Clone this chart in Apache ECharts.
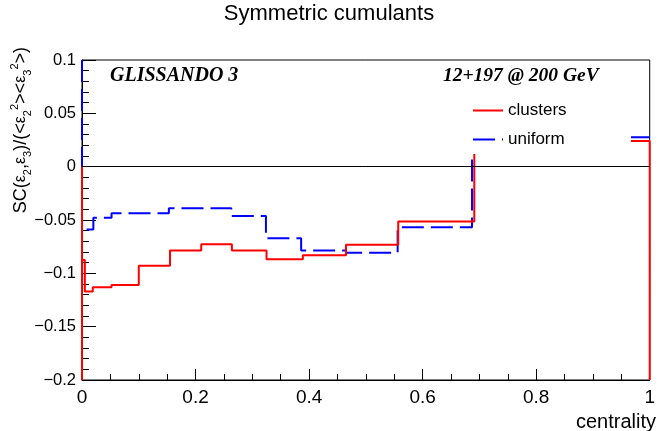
<!DOCTYPE html>
<html>
<head>
<meta charset="utf-8">
<script src="https://cdn.jsdelivr.net/npm/echarts@6/dist/echarts.min.js"></script>
<style>
  html, body { margin: 0; padding: 0; background: #fff; }
  #main { width: 658px; height: 431px; }
</style>
</head>
<body>
<div id="main"></div>
<script>
var sans = '"Liberation Sans", Arial, sans-serif';
var serif = '"Liberation Serif", "Times New Roman", serif';

// clusters (red): bin edges and bin values
var redEdges = [0, 0.005, 0.019, 0.052, 0.1, 0.155, 0.21, 0.264, 0.325, 0.389, 0.465, 0.557, 0.691];
var redValues = [-0.0875, -0.117, -0.113, -0.111, -0.093, -0.0787, -0.0728, -0.0787, -0.0869, -0.0831, -0.0731, -0.0515];
var redJump = 0.0119;
var redLastEdges = [0.967, 1];
var redLastValue = 0.024;

// uniform (blue)
var blueEdges = [0, 0.02, 0.052, 0.153, 0.263, 0.324, 0.386, 0.465, 0.556, 0.687];
var blueValues = [-0.0588, -0.0478, -0.0437, -0.039, -0.0462, -0.0672, -0.0787, -0.0806, -0.0569];
var blueJump = 0.0119;
var blueLastEdges = [0.967, 1];
var blueLastValue = 0.0275;

var yMin = -0.2, yMax = 0.1;

function steps(start, edges, values, jump, lastEdges, lastValue, end) {
  var pts = start.slice();
  for (var i = 0; i < values.length; i++) {
    pts.push([edges[i], values[i]]);
    pts.push([edges[i + 1], values[i]]);
  }
  pts.push([edges[edges.length - 1], jump]);
  pts.push([edges[edges.length - 1], '-']);
  pts.push([lastEdges[0], lastValue]);
  pts.push([lastEdges[1], lastValue]);
  return pts.concat(end);
}

var redData = steps([[0, yMin], [0, 0]], redEdges, redValues, redJump, redLastEdges, redLastValue, [[1, yMin]]);
var blueData = steps([[0, yMax]], blueEdges, blueValues, blueJump, blueLastEdges, blueLastValue, []);

function fmt(v) {
  var s = String(+Math.abs(v).toFixed(2));
  return v < 0 ? '\u2212' + s : s;
}

var myChart = echarts.init(document.getElementById('main'));

var option = {
  animation: false,
  backgroundColor: '#fff',
  title: {
    text: 'Symmetric cumulants',
    left: 'center',
    top: -2,
    textStyle: { fontFamily: sans, fontSize: 22, fontWeight: 'normal', color: '#000' }
  },
  legend: {
    data: ['clusters', 'uniform'],
    orient: 'vertical',
    left: 472,
    top: 102,
    padding: 0,
    itemWidth: 30,
    itemHeight: 14,
    itemGap: 12,
    itemStyle: { opacity: 0 },
    textStyle: { fontFamily: sans, fontSize: 17, color: '#000' }
  },
  grid: {
    left: 82, right: 1, top: 60, bottom: 51,
    show: true, borderColor: '#000', borderWidth: 1
  },
  xAxis: {
    type: 'value',
    min: 0, max: 1, interval: 0.2,
    axisLine: { show: true, onZero: false, lineStyle: { color: '#000', width: 1 } },
    axisTick: { show: true, inside: true, length: 11, lineStyle: { color: '#000' } },
    minorTick: { show: true, splitNumber: 4, length: 6, lineStyle: { color: '#000' } },
    splitLine: { show: false },
    axisLabel: { color: '#000', fontFamily: sans, fontSize: 19, margin: 8, formatter: fmt, alignMaxLabel: 'center' }
  },
  yAxis: {
    type: 'value',
    min: yMin, max: yMax, interval: 0.05,
    axisLine: { show: true, onZero: false, lineStyle: { color: '#000', width: 1 } },
    axisTick: { show: true, inside: true, length: 14, lineStyle: { color: '#000' } },
    minorTick: { show: true, splitNumber: 5, length: 7, lineStyle: { color: '#000' } },
    splitLine: { show: false },
    axisLabel: { color: '#000', fontFamily: sans, fontSize: 16.5, margin: 6, formatter: fmt }
  },
  graphic: [
    {
      type: 'text', x: 21, y: 47, rotation: Math.PI / 2,
      style: {
        text: '{a|SC(}{e|\u03b5}{s|2}{a|,}{e|\u03b5}{s|3}{a|)/(<}{e|\u03b5}{s|2}{p|2}{a|><}{e|\u03b5}{s|3}{p|2}{a|>)}',
        align: 'right', verticalAlign: 'middle',
        rich: {
          a: { fontFamily: sans, fontSize: 18, lineHeight: 24, verticalAlign: 'middle', fill: '#000' },
          e: { fontFamily: sans, fontSize: 16, lineHeight: 24, verticalAlign: 'middle', fill: '#000' },
          s: { fontFamily: sans, fontSize: 11, lineHeight: 24, verticalAlign: 'bottom', fill: '#000' },
          p: { fontFamily: sans, fontSize: 11, lineHeight: 24, verticalAlign: 'top', fill: '#000' }
        }
      }
    },
    {
      type: 'text', x: 656, y: 422,
      style: { text: 'centrality', fontFamily: sans, fontSize: 20, fill: '#000', align: 'right', verticalAlign: 'middle' }
    },
    {
      type: 'text', x: 110, y: 76,
      style: { text: 'GLISSANDO 3', fontFamily: serif, fontStyle: 'italic', fontWeight: 'bold', fontSize: 20, fill: '#000', align: 'left', verticalAlign: 'middle' }
    },
    {
      type: 'text', x: 443, y: 76,
      style: { text: '12+197 @ 200 GeV', fontFamily: serif, fontStyle: 'italic', fontWeight: 'bold', fontSize: 19.5, fill: '#000', align: 'left', verticalAlign: 'middle' }
    }
  ],
  series: [
    {
      name: 'uniform',
      type: 'line',
      data: blueData,
      symbol: 'none',
      connectNulls: false,
      color: '#0000ff',
      lineStyle: { color: '#0000ff', width: 2, type: [22, 7] },
      markLine: {
        silent: true,
        symbol: ['none', 'none'],
        label: { show: false },
        lineStyle: { color: '#000', width: 1, type: 'solid' },
        data: [{ yAxis: 0 }]
      }
    },
    {
      name: 'clusters',
      type: 'line',
      data: redData,
      symbol: 'none',
      connectNulls: false,
      color: '#ff0000',
      lineStyle: { color: '#ff0000', width: 2 }
    }
  ]
};

myChart.setOption(option);
</script>
</body>
</html>
